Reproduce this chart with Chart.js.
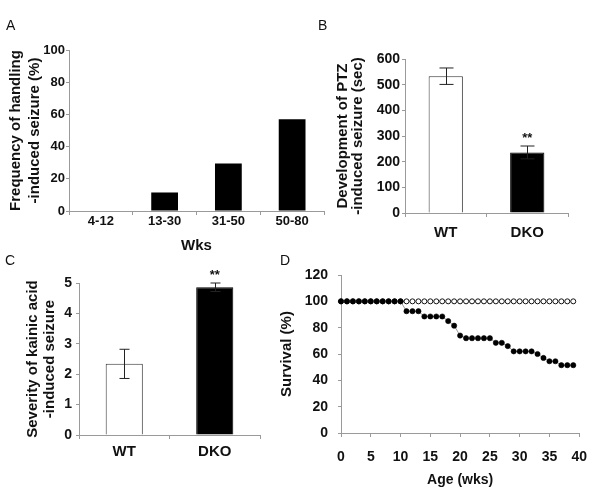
<!DOCTYPE html>
<html>
<head>
<meta charset="utf-8">
<script src="https://cdn.jsdelivr.net/npm/chart.js@4.4.1/dist/chart.umd.min.js"></script>
<style>
    body { margin: 0; background: #fff; }
    #fig { position: relative; width: 600px; height: 495px; overflow: hidden; background: #fff; }
    #fig canvas { position: absolute; }
    .panel-label { position: absolute; font: 14px "Liberation Sans", Arial, sans-serif; line-height: 14px; color: #111; }
</style>
</head>
<body>
<div id="fig">
    <canvas id="chartA" width="330" height="255" style="left:0;top:0"></canvas>
    <canvas id="chartB" width="300" height="255" style="left:300px;top:0"></canvas>
    <canvas id="chartC" width="300" height="240" style="left:0;top:255px"></canvas>
    <canvas id="chartD" width="330" height="240" style="left:270px;top:255px"></canvas>
    <div class="panel-label" style="left:6px;top:18px">A</div>
    <div class="panel-label" style="left:318px;top:18px">B</div>
    <div class="panel-label" style="left:5px;top:253px">C</div>
    <div class="panel-label" style="left:280px;top:253px">D</div>
</div>
<script>
// ===============================================
// DATA
// ===============================================
const wksLabels = ["4-12", "13-30", "31-50", "50-80"];
const handlingFreq = [0, 11.5, 29.5, 57];

const genotypes = ["WT", "DKO"];
const ptzMean = [533, 236];
const ptzErr = [32, 25];
const kainicMean = [2.34, 4.86];
const kainicErr = [0.48, 0.14];
const sigMarks = ["", "**"];

const ages = [0, 1, 2, 3, 4, 5, 6, 7, 8, 9, 10, 11, 12, 13, 14, 15, 16, 17, 18, 19,
              20, 21, 22, 23, 24, 25, 26, 27, 28, 29, 30, 31, 32, 33, 34, 35, 36, 37, 38, 39];
const wtSurvival = [100, 100, 100, 100, 100, 100, 100, 100, 100, 100, 100, 100, 100, 100, 100, 100, 100, 100, 100, 100,
                    100, 100, 100, 100, 100, 100, 100, 100, 100, 100, 100, 100, 100, 100, 100, 100, 100, 100, 100, 100];
const dkoSurvival = [100, 100, 100, 100, 100, 100, 100, 100, 100, 100, 100, 92.5, 92.5, 92.5, 88.5, 88.5, 88.5, 88.5, 85, 81.5,
                     74, 72, 72, 72, 72, 72, 68.5, 68.5, 66, 62, 62, 62, 62, 60, 57, 54.5, 54.5, 51.5, 51.5, 51.5];

// ===============================================
// COMMON STYLE
// ===============================================
const FONT = '"Liberation Sans", Arial, sans-serif';
const AXIS_GRAY = "#9a9a9a";
Chart.defaults.font.family = FONT;
Chart.defaults.color = "#111";

function bold(size, lineHeight) {
    return { family: FONT, size: size, weight: "bold", lineHeight: lineHeight || 1 };
}

function axisLines(tickLength) {
    return {
        grid: { display: true, drawOnChartArea: false, drawTicks: true, tickLength: tickLength, color: AXIS_GRAY },
        border: { display: true, color: AXIS_GRAY, width: 1 },
    };
}

// error bars + significance marks, drawn from the y scale
const errorBarsPlugin = {
    id: "errorBars",
    afterDatasetsDraw(chart, args, opts) {
        if (!opts.errors) return;
        const ctx = chart.ctx;
        const yScale = chart.scales.y;
        const values = chart.data.datasets[0].data;
        const meta = chart.getDatasetMeta(0);
        ctx.save();
        ctx.strokeStyle = "#222";
        ctx.lineWidth = 1;
        meta.data.forEach((bar, i) => {
            const v = values[i];
            const e = opts.errors[i];
            const yTop = yScale.getPixelForValue(v + e);
            const yBot = yScale.getPixelForValue(v - e);
            const x = Math.round(bar.x) + 0.5;
            ctx.beginPath();
            ctx.moveTo(x, yTop); ctx.lineTo(x, yBot);
            ctx.moveTo(x - opts.cap, yTop); ctx.lineTo(x + opts.cap, yTop);
            ctx.moveTo(x - opts.cap, yBot); ctx.lineTo(x + opts.cap, yBot);
            ctx.stroke();
            if (opts.marks && opts.marks[i]) {
                ctx.fillStyle = "#111";
                ctx.font = "bold 13px " + FONT;
                ctx.textAlign = "center";
                ctx.textBaseline = "bottom";
                ctx.fillText(opts.marks[i], bar.x, yTop - 1);
            }
        });
        ctx.restore();
    },
};

const baseOptions = {
    responsive: false,
    animation: false,
    devicePixelRatio: 1,
};

// ===============================================
// PANEL A - HANDLING-INDUCED SEIZURE
// ===============================================
new Chart(document.getElementById("chartA"), {
    type: "bar",
    data: {
        labels: wksLabels,
        datasets: [{ data: handlingFreq, backgroundColor: "#000", borderWidth: 0, barPercentage: 0.42, categoryPercentage: 1 }],
    },
    options: {
        ...baseOptions,
        layout: { padding: { top: 50, right: 6, bottom: 0, left: 0 } },
        plugins: { legend: { display: false }, tooltip: { enabled: false } },
        scales: {
            x: {
                ...axisLines(4),
                ticks: { font: bold(13), padding: 0, color: "#111" },
                title: { display: true, text: "Wks", font: bold(15, 1.2), padding: { top: 0, bottom: 0.5 }, color: "#111" },
                afterFit: s => { s.height = 44; },
            },
            y: {
                ...axisLines(3),
                min: 0, max: 100,
                ticks: { stepSize: 20, font: bold(13), padding: 1, color: "#111" },
                title: { display: true, text: ["Frequency of handling", "-induced seizure (%)"], font: bold(15, 1.3), padding: { top: 6, bottom: 0 }, color: "#111" },
                afterFit: s => { s.width = 69; },
            },
        },
    },
});

// ===============================================
// PANEL B - PTZ
// ===============================================
new Chart(document.getElementById("chartB"), {
    type: "bar",
    data: {
        labels: genotypes,
        datasets: [{
            data: ptzMean,
            backgroundColor: ["#fff", "#000"],
            borderColor: ["#333", "#000"],
            borderWidth: 1,
            barPercentage: 0.42, categoryPercentage: 1,
        }],
    },
    options: {
        ...baseOptions,
        layout: { padding: { top: 59, right: 32, bottom: 0, left: 0 } },
        plugins: {
            legend: { display: false }, tooltip: { enabled: false },
            errorBars: { errors: ptzErr, marks: sigMarks, cap: 7 },
        },
        scales: {
            x: {
                ...axisLines(4),
                ticks: { font: bold(15), padding: 8.5, color: "#111" },
                afterFit: s => { s.height = 42; },
            },
            y: {
                ...axisLines(3),
                min: 0, max: 600,
                ticks: { stepSize: 100, font: bold(14), padding: 2, color: "#111" },
                title: { display: true, text: ["Development of PTZ", "-induced seizure (sec)"], font: bold(15, 0.95), padding: { top: 36, bottom: 0 }, color: "#111" },
                afterFit: s => { s.width = 105; },
            },
        },
    },
    plugins: [errorBarsPlugin],
});

// ===============================================
// PANEL C - KAINIC ACID
// ===============================================
new Chart(document.getElementById("chartC"), {
    type: "bar",
    data: {
        labels: genotypes,
        datasets: [{
            data: kainicMean,
            backgroundColor: ["#fff", "#000"],
            borderColor: ["#333", "#000"],
            borderWidth: 1,
            barPercentage: 0.41, categoryPercentage: 1,
        }],
    },
    options: {
        ...baseOptions,
        layout: { padding: { top: 28, right: 40, bottom: 0, left: 0 } },
        plugins: {
            legend: { display: false }, tooltip: { enabled: false },
            errorBars: { errors: kainicErr, marks: sigMarks, cap: 5 },
        },
        scales: {
            x: {
                ...axisLines(4),
                ticks: { font: bold(15), padding: 5.5, color: "#111" },
                afterFit: s => { s.height = 60; },
            },
            y: {
                ...axisLines(3),
                min: 0, max: 5,
                ticks: { stepSize: 1, font: bold(14), padding: 4, color: "#111" },
                title: { display: true, text: ["Severity of kainic acid", "-induced seizure"], font: bold(15, 1.15), padding: { top: 24, bottom: 0 }, color: "#111" },
                afterFit: s => { s.width = 79; },
            },
        },
    },
    plugins: [errorBarsPlugin],
});

// ===============================================
// PANEL D - SURVIVAL
// ===============================================
new Chart(document.getElementById("chartD"), {
    type: "line",
    data: {
        datasets: [
            {
                label: "DKO",
                data: ages.map((a, i) => ({ x: a, y: dkoSurvival[i] })),
                borderColor: "#999", borderWidth: 1,
                pointRadius: 2.6, pointBackgroundColor: "#000", pointBorderColor: "#000", pointBorderWidth: 0.6,
                clip: false,
            },
            {
                label: "WT",
                data: ages.map((a, i) => ({ x: a, y: wtSurvival[i] })),
                borderColor: "#999", borderWidth: 1,
                pointRadius: 2.5, pointBackgroundColor: "#fff", pointBorderColor: "#111", pointBorderWidth: 1,
                clip: false,
            },
        ],
    },
    options: {
        ...baseOptions,
        layout: { padding: { top: 20, right: 17, bottom: 0, left: 0 } },
        plugins: { legend: { display: false }, tooltip: { enabled: false } },
        scales: {
            x: {
                type: "linear",
                ...axisLines(4),
                min: 0, max: 40,
                ticks: { stepSize: 5, font: bold(14), padding: 13, color: "#111" },
                title: { display: true, text: "Age (wks)", font: bold(14, 1.2), padding: { top: 0, bottom: 6.6 }, color: "#111" },
                afterFit: s => { s.height = 62; },
            },
            y: {
                ...axisLines(3),
                min: 0, max: 120,
                ticks: { stepSize: 20, font: bold(14), padding: 10, color: "#111" },
                title: { display: true, text: "Survival (%)", font: bold(15, 1.2), padding: { top: 8, bottom: 0 }, color: "#111" },
                afterFit: s => { s.width = 71; },
            },
        },
    },
});
</script>
</body>
</html>
